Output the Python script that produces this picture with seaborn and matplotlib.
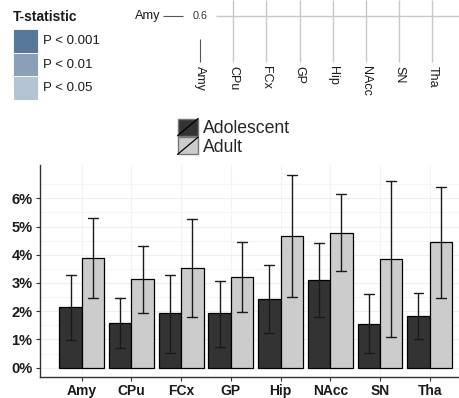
import numpy as np
import pandas as pd
import matplotlib
matplotlib.use("Agg")
import matplotlib.pyplot as plt
import seaborn as sns
from matplotlib.patches import Rectangle
from matplotlib.lines import Line2D
from matplotlib.legend_handler import HandlerPatch

# ---------------- data ----------------
regions = ["Amy", "CPu", "FCx", "GP", "Hip", "NAcc", "SN", "Tha"]
groups = ["Adolescent", "Adult"]
adolescent = [2.15, 1.59, 1.93, 1.93, 2.44, 3.11, 1.56, 1.83]
adolescent_lo = [0.99, 0.69, 0.53, 0.74, 1.23, 1.78, 0.51, 1.00]
adolescent_hi = [3.29, 2.48, 3.29, 3.08, 3.63, 4.41, 2.61, 2.63]
adult = [3.89, 3.14, 3.53, 3.21, 4.67, 4.78, 3.85, 4.44]
adult_lo = [2.47, 1.93, 1.81, 1.98, 2.49, 3.43, 1.10, 2.48]
adult_hi = [5.29, 4.32, 5.26, 4.44, 6.83, 6.14, 6.61, 6.39]
y_ticks = [0, 1, 2, 3, 4, 5, 6]
y_tick_labels = ["0%", "1%", "2%", "3%", "4%", "5%", "6%"]
p_labels = ["P < 0.001", "P < 0.01", "P < 0.05"]
p_colors = ["#57789b", "#8aa0b9", "#b5c4d4"]
bar_colors = ["#333333", "#cccccc"]

# long-form table: each group holds (lo, value, hi); median -> bar, min/max -> error bar
rows = []
for g, vals, los, his in [("Adolescent", adolescent, adolescent_lo, adolescent_hi),
                          ("Adult", adult, adult_lo, adult_hi)]:
    for r, v, lo, hi in zip(regions, vals, los, his):
        for x in (lo, v, hi):
            rows.append({"region": r, "group": g, "value": x})
df = pd.DataFrame(rows)

W, H = 459, 398
sns.set_theme(style="white")
plt.rcParams["font.family"] = ["Liberation Sans", "DejaVu Sans"]
fig = plt.figure(figsize=(W / 100, H / 100), dpi=100)


def px_axes(x0, y0, x1, y1):
    return fig.add_axes([x0 / W, 1 - y1 / H, (x1 - x0) / W, (y1 - y0) / H])


# ---------------- bar chart ----------------
ax = px_axes(39.5, 165, 459, 376.7)
sns.barplot(data=df, x="region", y="value", hue="group", order=regions,
            hue_order=groups, palette=bar_colors, estimator="median",
            errorbar=lambda v: (np.min(v), np.max(v)), width=0.9,
            capsize=0.4,
            err_kws={"color": "#1a1a1a", "linewidth": 1.0, "zorder": 5},
            edgecolor="black", linewidth=0.9, ax=ax, legend=False, zorder=3)
ax.set_xlim(-0.85, 7.59)
ax.set_ylim(-0.32, 7.18)
ax.set_yticks(y_ticks)
ax.set_yticklabels(y_tick_labels)
ax.set_yticks(np.arange(0.5, 7.1, 1.0), minor=True)
ax.grid(True, which="major", axis="y", color="#eeeeee", linewidth=0.8, zorder=0)
ax.grid(True, which="minor", axis="y", color="#f6f6f6", linewidth=0.8, zorder=0)
ax.grid(True, which="major", axis="x", color="#f3f3f3", linewidth=0.8, zorder=0)
ax.set_axisbelow(True)
ax.set_xlabel("")
ax.set_ylabel("")
for s in ["top", "right"]:
    ax.spines[s].set_visible(False)
for s in ["left", "bottom"]:
    ax.spines[s].set_color("#333333")
    ax.spines[s].set_linewidth(1.0)
ax.tick_params(axis="both", which="major", length=3, width=0.8, color="#333333",
               direction="out", pad=2, left=True, bottom=True)
ax.tick_params(axis="both", which="minor", length=0)
for lab in ax.get_yticklabels():
    lab.set_fontsize(10.5)
    lab.set_fontweight("bold")
    lab.set_color("#1a1a1a")
for lab in ax.get_xticklabels():
    lab.set_fontsize(10)
    lab.set_fontweight("bold")
    lab.set_color("#1a1a1a")


# ---------------- legend with diagonal-line keys ----------------
class DiagHandler(HandlerPatch):
    def create_artists(self, legend, orig_handle, xdescent, ydescent,
                       width, height, fontsize, trans):
        r = Rectangle((-xdescent, -ydescent), width, height,
                      facecolor=orig_handle.get_facecolor(),
                      edgecolor="#777777", linewidth=1.0, transform=trans)
        l = Line2D([-xdescent, -xdescent + width], [-ydescent, -ydescent + height],
                   color="black", linewidth=0.9, transform=trans)
        return [r, l]


handles = [Rectangle((0, 0), 1, 1, facecolor=c) for c in bar_colors]
fig.legend(handles, groups, handler_map={Rectangle: DiagHandler()},
           loc="upper left", bbox_to_anchor=(177.5 / W, 1 - 118.5 / H),
           frameon=False, fontsize=12.7, handlelength=1.17, handleheight=1.13,
           handletextpad=0.3, labelspacing=0.0, borderpad=0, borderaxespad=0)

# ---------------- top-left significance key ----------------
fig.text(13 / W, 1 - 17 / H, "T-statistic", fontsize=10, fontweight="bold",
         va="center", ha="left", color="#1a1a1a")
axk = px_axes(0, 0, 120, 110)
axk.set_xlim(0, 120)
axk.set_ylim(110, 0)
axk.axis("off")
for i, (lab, col) in enumerate(zip(p_labels, p_colors)):
    y0 = 29 + i * 23.7
    axk.add_patch(Rectangle((13, y0), 25, 23.7, facecolor=col,
                            edgecolor="white", linewidth=0.6))
    axk.text(43, y0 + 12, lab, fontsize=9.5, va="center", ha="left",
             color="#1a1a1a")

# ---------------- top partial panel ----------------
axt = px_axes(150, 0, 459, 110)
sp = 33.2
axt.set_xlim((150 - 200) / sp, (459 - 200) / sp)
axt.set_ylim(110, 0)
axt.axis("off")
idx = np.arange(len(regions))
axt.hlines(16, (216 - 200) / sp, (459 - 200) / sp, color="#c8c8c8", linewidth=1.0)
axt.vlines(idx[1:], 0, 62, color="#c8c8c8", linewidth=1.0)
axt.vlines(idx[0], 39, 62, color="#555555", linewidth=0.8)
axt.hlines(16, (163 - 200) / sp, (183 - 200) / sp, color="#555555", linewidth=0.8)
axt.text((160 - 200) / sp, 16, regions[0], fontsize=9.2, ha="right", va="center",
         color="#1a1a1a", clip_on=False)
axt.text(0, 16, "0.6", fontsize=7.8, ha="center", va="center", color="#333333")
for i, r in enumerate(regions):
    axt.text(i, 66, r, fontsize=9, rotation=270, ha="center", va="top",
             color="#1a1a1a")

fig.savefig("out.png", dpi=100)
